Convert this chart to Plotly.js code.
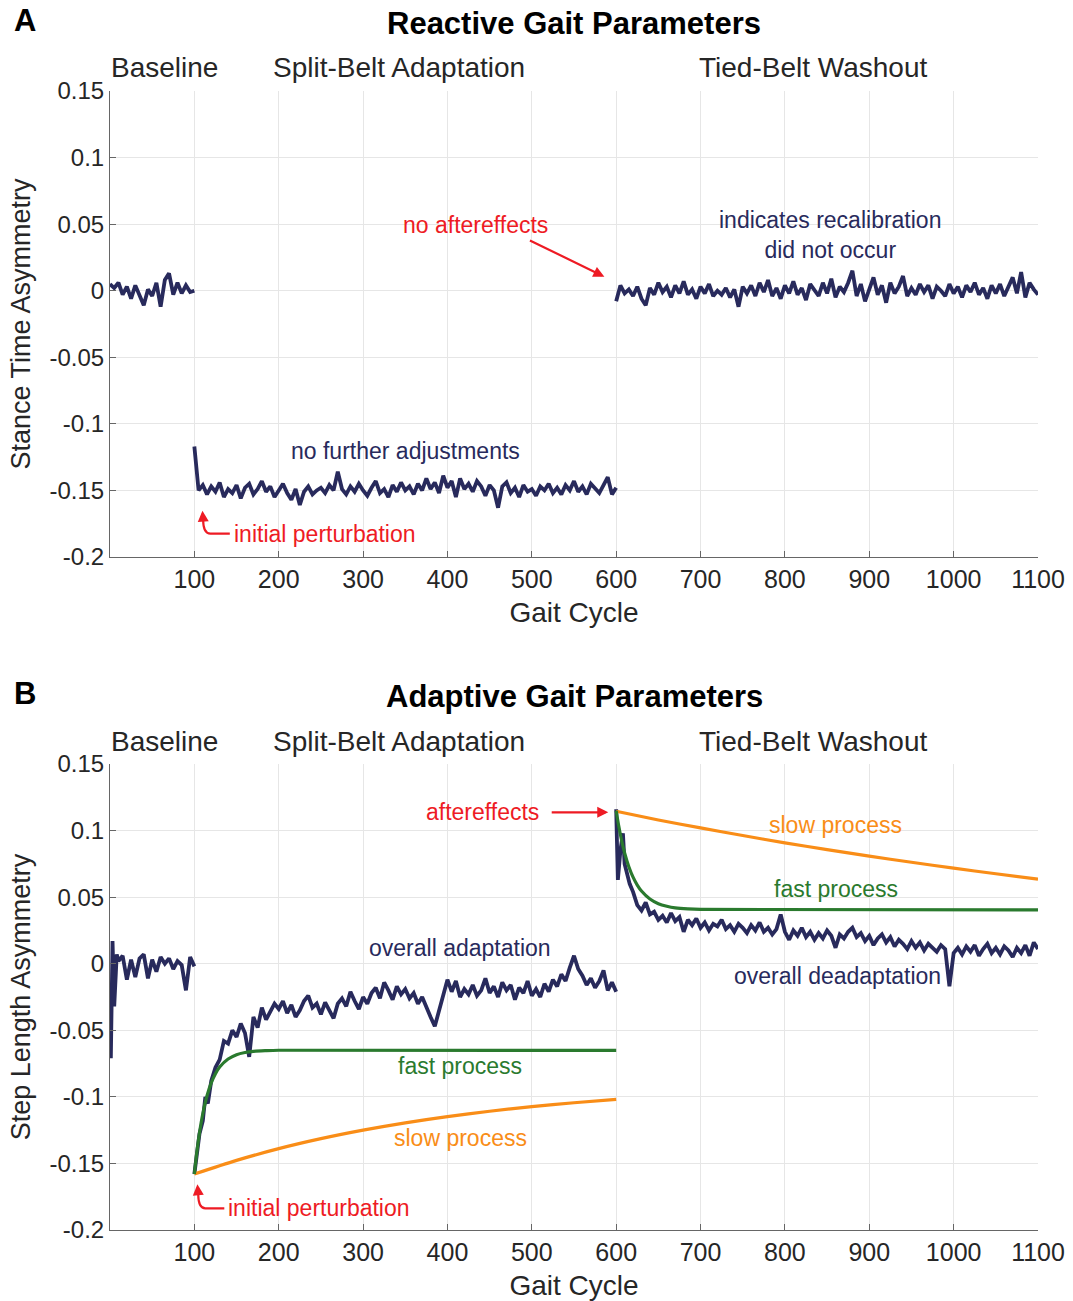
<!DOCTYPE html>
<html>
<head>
<meta charset="utf-8">
<script src="https://cdn.plot.ly/plotly-3.0.1.min.js"></script>
<style>html,body{margin:0;padding:0;background:#fff;}#chart{width:1073px;height:1301px;}</style>
</head>
<body>
<div id="chart"></div>
<script>
// ---------- data ----------
function steps(a, b, s) { const r = []; for (let v = a; v <= b + 1e-9; v += s) r.push(v); return r; }

const xTickVals = [100, 200, 300, 400, 500, 600, 700, 800, 900, 1000, 1100];
const yTickVals = [-0.2, -0.15, -0.1, -0.05, 0, 0.05, 0.1, 0.15];
const yTickText = ["-0.2", "-0.15", "-0.1", "-0.05", "0", "0.05", "0.1", "0.15"];
const phaseLabels = ["Baseline", "Split-Belt Adaptation", "Tied-Belt Washout"];

// Panel A: stance time asymmetry
const aBaseCycles = steps(0, 100, 5);
const aBase = [0.005, 0.002, 0.006, -0.003, 0.003, -0.006, 0.004, -0.004, -0.011, 0.001,
  -0.004, 0.006, -0.012, 0.008, 0.013, -0.003, 0.006, -0.002, 0.004, -0.001, 0.000];
const aAdaptCycles = steps(100, 600, 5);
const aAdapt = [
  -0.117, -0.150, -0.146, -0.153, -0.147, -0.151, -0.144, -0.155, -0.149, -0.152,
  -0.146, -0.156, -0.148, -0.145, -0.153, -0.149, -0.143, -0.151, -0.147, -0.155,
  -0.150, -0.145, -0.152, -0.157, -0.149, -0.161, -0.151, -0.147, -0.153, -0.150,
  -0.148, -0.152, -0.146, -0.150, -0.136, -0.149, -0.153, -0.147, -0.151, -0.145,
  -0.150, -0.154, -0.148, -0.143, -0.152, -0.149, -0.155, -0.146, -0.151, -0.144,
  -0.150, -0.147, -0.153, -0.145, -0.150, -0.141, -0.149, -0.144, -0.152, -0.139,
  -0.148, -0.143, -0.155, -0.141, -0.149, -0.145, -0.151, -0.143, -0.147, -0.154,
  -0.146, -0.150, -0.163, -0.147, -0.144, -0.152, -0.148, -0.155, -0.146, -0.151,
  -0.149, -0.154, -0.147, -0.150, -0.145, -0.152, -0.148, -0.153, -0.146, -0.150,
  -0.143, -0.151, -0.147, -0.153, -0.145, -0.149, -0.152, -0.146, -0.140, -0.153,
  -0.148];
const aWashCycles = steps(600, 1100, 5);
const aWash = [
  -0.008, 0.004, -0.002, 0.001, -0.004, 0.003, -0.006, -0.011, 0.002, -0.003,
  0.006, -0.001, 0.003, -0.005, 0.004, -0.002, 0.007, -0.003, 0.001, -0.006,
  0.003, -0.002, 0.005, -0.004, 0.000, -0.003, 0.002, -0.005, 0.001, -0.012,
  0.003, -0.002, 0.004, -0.004, 0.006, -0.001, 0.008, -0.004, 0.002, -0.006,
  0.004, -0.002, 0.007, -0.003, 0.002, -0.007, 0.005, 0.000, -0.004, 0.006,
  -0.002, 0.009, -0.005, 0.003, -0.001, 0.006, 0.015, -0.004, 0.005, -0.008,
  0.002, 0.010, -0.003, 0.004, -0.009, 0.006, -0.002, 0.003, 0.011, -0.004,
  0.002, -0.003, 0.005, -0.001, 0.004, -0.006, 0.003, 0.000, -0.004, 0.005,
  -0.002, 0.003, -0.005, 0.004, -0.001, 0.006, -0.003, 0.002, -0.006, 0.004,
  -0.002, 0.005, -0.004, 0.003, 0.010, -0.002, 0.014, -0.005, 0.006, 0.001,
  -0.003];

// Panel B: step length asymmetry
const bBaseCycles = [1, 3, 5, 8].concat(steps(10, 100, 5));
const bBase = [-0.071, 0.017, -0.032, 0.007,
  0.002, 0.006, -0.012, 0.003, -0.010, 0.004, 0.007, -0.011, 0.003, -0.006,
  0.005, 0.000, 0.004, -0.004, 0.002, -0.001, -0.020, 0.005, -0.002];
const bAdaptCycles = [100, 103, 106, 110, 113, 116, 120].concat(steps(125, 600, 5));
const bAdapt = [-0.158, -0.140, -0.128, -0.118, -0.100, -0.105, -0.088,
  -0.078, -0.072, -0.058, -0.060, -0.050, -0.055, -0.045, -0.052, -0.070, -0.040,
  -0.048, -0.033, -0.042, -0.036, -0.030, -0.034, -0.028, -0.037, -0.031, -0.040,
  -0.035, -0.028, -0.024, -0.033, -0.030, -0.038, -0.029, -0.035, -0.041, -0.030,
  -0.026, -0.032, -0.021, -0.028, -0.034, -0.025, -0.030, -0.022, -0.018, -0.026,
  -0.014, -0.020, -0.027, -0.017, -0.023, -0.019, -0.026, -0.022, -0.030, -0.025,
  -0.033, -0.040, -0.047, -0.035, -0.025, -0.012, -0.021, -0.013, -0.025, -0.019,
  -0.023, -0.016, -0.024, -0.020, -0.011, -0.022, -0.017, -0.025, -0.014, -0.020,
  -0.016, -0.027, -0.018, -0.022, -0.013, -0.024, -0.019, -0.025, -0.015, -0.021,
  -0.012, -0.017, -0.008, -0.013, -0.003, 0.006, -0.004, -0.009, -0.016, -0.011,
  -0.018, -0.013, -0.005, -0.020, -0.014, -0.021];
const bWashCycles = [600, 602, 605, 608, 610, 613, 616, 620].concat(steps(625, 1100, 5));
const bWash = [0.116, 0.063, 0.085, 0.098, 0.075, 0.068, 0.060, 0.054,
  0.044, 0.040, 0.046, 0.037, 0.039, 0.033, 0.036, 0.031, 0.038, 0.032,
  0.035, 0.024, 0.033, 0.029, 0.034, 0.027, 0.031, 0.025, 0.030, 0.028,
  0.033, 0.026, 0.029, 0.024, 0.030, 0.027, 0.023, 0.029, 0.025, 0.031,
  0.024, 0.027, 0.022, 0.026, 0.037, 0.024, 0.018, 0.025, 0.021, 0.027,
  0.020, 0.024, 0.018, 0.023, 0.019, 0.025, 0.021, 0.012, 0.022, 0.019,
  0.024, 0.027, 0.020, 0.023, 0.017, 0.021, 0.014, 0.019, 0.022, 0.016,
  0.020, 0.013, 0.018, 0.015, 0.011, 0.017, 0.012, 0.016, 0.010, 0.015,
  0.012, 0.009, 0.014, 0.011, -0.017, 0.008, 0.012, 0.007, 0.013, 0.009,
  0.014, 0.006, 0.011, 0.015, 0.008, 0.012, 0.007, 0.013, 0.010, 0.005,
  0.012, 0.008, 0.014, 0.006, 0.016, 0.011];

const fastAdaptCycles = [100, 103, 106, 110, 115, 120, 125, 130, 140, 150, 160, 170, 185, 200, 600];
const fastAdapt = [-0.158, -0.1412, -0.1273, -0.1127, -0.0992, -0.0895, -0.0826, -0.0776,
  -0.0716, -0.0683, -0.0667, -0.0658, -0.0653, -0.0650, -0.0650];
const slowAdaptCycles = steps(100, 600, 50);
const slowAdapt = [-0.158, -0.1477, -0.1389, -0.1314, -0.1250, -0.1195, -0.1148, -0.1108, -0.1073, -0.1044, -0.1019];
const fastWashCycles = [600, 603, 606, 610, 615, 620, 625, 630, 640, 650, 660, 670, 685, 700, 1100];
const fastWash = [0.1150, 0.1036, 0.0939, 0.0832, 0.0729, 0.0650, 0.0591, 0.0546,
  0.0486, 0.0451, 0.0432, 0.0420, 0.0412, 0.0408, 0.0405];
const slowWashCycles = steps(600, 1100, 50);
const slowWash = [0.1145, 0.1080, 0.1020, 0.0963, 0.0908, 0.0857, 0.0808, 0.0762, 0.0718, 0.0676, 0.0635];

// ---------- styling ----------
const NAVY = '#282a5c', GREEN = '#2a7a2e', ORANGE = '#f98d17', RED = '#ee1b24';
const FONT = 'Liberation Sans, Arial, Helvetica, sans-serif';

function line(x, y, color, width, xa, ya, spline) {
  return { type: 'scatter', mode: 'lines', x: x, y: y, xaxis: xa, yaxis: ya,
    line: { color: color, width: width, shape: spline ? 'spline' : 'linear', smoothing: 0.8 },
    hoverinfo: 'skip', showlegend: false };
}

const traces = [
  line(aBaseCycles, aBase, NAVY, 3.8, 'x', 'y'),
  line(aAdaptCycles, aAdapt, NAVY, 3.8, 'x', 'y'),
  line(aWashCycles, aWash, NAVY, 3.8, 'x', 'y'),
  line(bBaseCycles, bBase, NAVY, 3.8, 'x2', 'y2'),
  line(bAdaptCycles, bAdapt, NAVY, 3.8, 'x2', 'y2'),
  line(bWashCycles, bWash, NAVY, 3.8, 'x2', 'y2'),
  line(slowAdaptCycles, slowAdapt, ORANGE, 3.2, 'x2', 'y2', true),
  line(slowWashCycles, slowWash, ORANGE, 3.2, 'x2', 'y2', true),
  line(fastAdaptCycles, fastAdapt, GREEN, 3.2, 'x2', 'y2', true),
  line(fastWashCycles, fastWash, GREEN, 3.2, 'x2', 'y2', true)
];

function xaxis(anchor) {
  return { anchor: anchor, range: [0, 1100], tickvals: xTickVals, ticks: 'inside', ticklen: 6,
    tickcolor: '#666', showline: true, linecolor: '#666', linewidth: 1, showgrid: true,
    gridcolor: '#e6e6e6', gridwidth: 1, zeroline: false, tickfont: { size: 25, color: '#262626' },
    title: { text: 'Gait Cycle', font: { size: 28, color: '#262626' }, standoff: 10 }, automargin: false };
}
function yaxis(anchor, domain, title) {
  return { anchor: anchor, domain: domain, range: [-0.2, 0.15], tickvals: yTickVals, ticktext: yTickText,
    ticks: 'inside', ticklen: 6, tickcolor: '#666', showline: true, linecolor: '#666', linewidth: 1,
    showgrid: true, gridcolor: '#e6e6e6', gridwidth: 1, zeroline: false,
    tickfont: { size: 24, color: '#262626' },
    title: { text: title, font: { size: 27, color: '#262626' }, standoff: 11 }, automargin: false };
}

function txt(x, y, xr, yr, text, color, size, extra) {
  return Object.assign({ x: x, y: y, xref: xr, yref: yr, text: text, showarrow: false,
    xanchor: 'center', yanchor: 'middle',
    font: { family: FONT, size: size, color: color } }, extra || {});
}
function arrow(x, y, ax, ay, xr, yr) {
  return { x: x, y: y, ax: ax, ay: ay, xref: xr, yref: yr, axref: xr, ayref: yr, text: '',
    showarrow: true, arrowhead: 2, arrowsize: 1, arrowwidth: 2.2, arrowcolor: RED };
}

const phaseX = [64.5, 343, 833];
const annotations = [
  txt(-0.1056, 1.152, 'x domain', 'y domain', '<b>A</b>', '#000', 31, { xanchor: 'left' }),
  txt(-0.1056, 1.152, 'x2 domain', 'y2 domain', '<b>B</b>', '#000', 31, { xanchor: 'left' }),
  txt(0.5, 1.1459, 'x domain', 'y domain', '<b>Reactive Gait Parameters</b>', '#000', 31),
  txt(0.5, 1.1459, 'x2 domain', 'y2 domain', '<b>Adaptive Gait Parameters</b>', '#000', 31),
  // panel A
  txt(433, 0.0495, 'x', 'y', 'no aftereffects', RED, 23),
  arrow(586, 0.0105, 496, 0.0383, 'x', 'y'),
  txt(853, 0.0417, 'x', 'y', 'indicates recalibration<br>did not occur', NAVY, 23),
  txt(350, -0.1201, 'x', 'y', 'no further adjustments', NAVY, 23),
  txt(145, -0.1824, 'x', 'y', 'initial perturbation', RED, 23, { xanchor: 'left' }),
  arrow(109.6, -0.1652, 110.4, -0.1722, 'x', 'y'),
  // panel B
  txt(442, 0.1137, 'x2', 'y2', 'aftereffects', RED, 23),
  arrow(590.6, 0.1137, 521.8, 0.1137, 'x2', 'y2'),
  txt(860, 0.1039, 'x2', 'y2', 'slow process', ORANGE, 23),
  txt(861, 0.0565, 'x2', 'y2', 'fast process', GREEN, 23),
  txt(862, -0.009, 'x2', 'y2', 'overall deadaptation', NAVY, 23),
  txt(415, 0.012, 'x2', 'y2', 'overall adaptation', NAVY, 23),
  txt(415, -0.0768, 'x2', 'y2', 'fast process', GREEN, 23),
  txt(416, -0.131, 'x2', 'y2', 'slow process', ORANGE, 23),
  txt(138, -0.1837, 'x2', 'y2', 'initial perturbation', RED, 23, { xanchor: 'left' }),
  arrow(103.6, -0.1657, 104.6, -0.1735, 'x2', 'y2')
];
phaseLabels.forEach(function (p, i) {
  const fx = phaseX[i] / 1100;
  annotations.push(txt(fx, 1.0494, 'x domain', 'y domain', p, '#262626', 28));
  annotations.push(txt(fx, 1.0494, 'x2 domain', 'y2 domain', p, '#262626', 28));
});

const shapes = [
  { type: 'path', xref: 'x', yref: 'y', path: 'M 142,-0.1824 L 119,-0.1824 Q 110.5,-0.1824 110.4,-0.1722',
    line: { color: RED, width: 2.2 } },
  { type: 'path', xref: 'x2', yref: 'y2', path: 'M 135.5,-0.1837 L 113,-0.1837 Q 104.8,-0.1837 104.6,-0.1735',
    line: { color: RED, width: 2.2 } }
];

const layout = {
  width: 1073, height: 1301,
  margin: { l: 110, r: 35, t: 91, b: 71, pad: 0 },
  paper_bgcolor: '#fff', plot_bgcolor: '#fff',
  font: { family: FONT, color: '#262626' },
  showlegend: false,
  xaxis: xaxis('y'),
  yaxis: yaxis('x', [0.5909, 1], 'Stance Time Asymmetry'),
  xaxis2: xaxis('y2'),
  yaxis2: yaxis('x2', [0, 0.4091], 'Step Length Asymmetry'),
  annotations: annotations,
  shapes: shapes
};

Plotly.newPlot('chart', traces, layout, { staticPlot: true, displayModeBar: false });
</script>
</body>
</html>
